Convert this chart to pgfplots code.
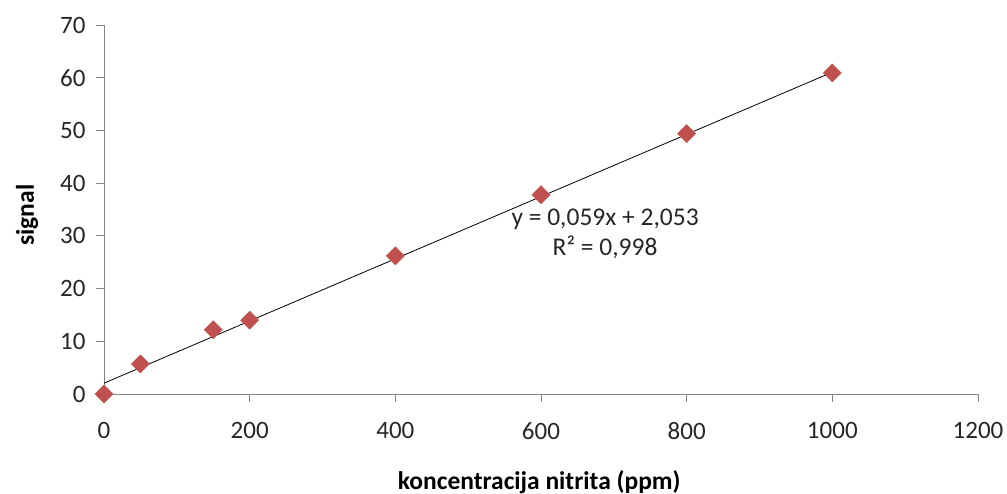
\documentclass[border=0pt]{standalone}
\usepackage{pgfplots}
\pgfplotsset{compat=1.18}
\usepackage{fontspec}
\setmainfont{Carlito}
\definecolor{axgray}{HTML}{868686}
\definecolor{mred}{HTML}{C0504D}
\begin{document}
\begin{tikzpicture}
\useasboundingbox (0,0) rectangle (1007pt,494pt);
\begin{axis}[
  at={(104pt,100pt)}, anchor=south west,
  scale only axis, width=874pt, height=369pt,
  xmin=0, xmax=1200, ymin=0, ymax=70,
  xtick={0,200,...,1200}, ytick={0,10,...,70},
  axis x line*=bottom, axis y line*=left,
  axis line style={axgray, line width=0.9pt, -},
  tick style={axgray, line width=0.9pt},
  tick align=outside, major tick length=8pt,
  /pgf/number format/assume math mode=true,
  /pgf/number format/1000 sep={},
  tick label style={font=\fontsize{25}{29}\selectfont, text=black!85},
  xticklabel style={yshift=-17pt},
  yticklabel style={xshift=-7pt},
  xlabel={\textbf{koncentracija nitrita (ppm)}},
  ylabel={\textbf{signal}},
  label style={font=\fontsize{25.5}{29}\selectfont},
  xlabel style={at={(axis description cs:0.498,-0.239)}, anchor=center},
  ylabel style={at={(axis description cs:-0.088,0.485)}, anchor=center},
  clip=false,
]
\addplot[black, line width=0.8pt] coordinates {(0,2.053) (1000,61.053)};
\addplot[only marks, mark=square*, mark size=6.4pt, mark options={rotate=45, fill=mred, draw=mred}]
  coordinates {(0,0) (50,5.7) (150,12.2) (200,14.0) (400,26.2) (600,37.8) (800,49.4) (1000,60.9)};
\node[font=\fontsize{25.5}{30}\selectfont, align=center, text=black!85] at (axis cs:688,30.4) {y = 0,059x + 2,053\\R² = 0,998};
\end{axis}
\end{tikzpicture}
\end{document}
